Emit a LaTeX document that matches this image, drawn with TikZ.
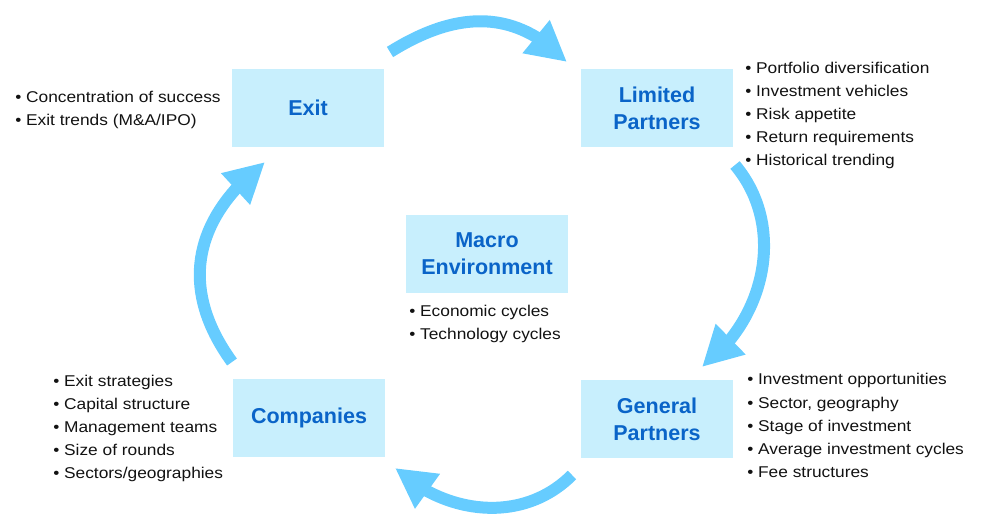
\documentclass[tikz,border=0pt]{standalone}
\usepackage{fontspec}
\setmainfont{Liberation Sans}
\newfontfamily\bulletfont{Liberation Sans}[FakeStretch=1.11]
\usetikzlibrary{arrows.meta,bending}
\definecolor{boxblue}{RGB}{200, 239, 253}
\definecolor{titleblue}{RGB}{10, 100, 200}
\definecolor{loopblue}{RGB}{102, 204, 255}

\begin{document}
\begin{tikzpicture}[x=0.025cm, y=0.025cm,
    stage/.style={fill=boxblue, minimum width=3.8cm, minimum height=1.95cm, align=center,
        text=titleblue, font=\bfseries\fontsize{15.3}{19.2}\selectfont},
    notes/.style={anchor=west, inner sep=0pt, align=left, text=black!93,
        font=\bulletfont\fontsize{11.1}{16.4}\selectfont},
    cycle/.style={loopblue, line width=0.3cm, -{Triangle[length=1cm, width=1cm]}}]
    \useasboundingbox (0,0) rectangle (981,-531);
    % stages of the cycle
    \node[stage] (exit) at (308,-108) {Exit};
    \node[stage] (lp) at (657,-108) {Limited\\Partners};
    \node[stage] (gp) at (657,-419) {General\\Partners};
    \node[stage] (comp) at (309,-418) {Companies};
    \node[stage, minimum width=4.05cm] (macro) at (487,-254) {Macro\\Environment};
    % bullet lists
    \node[notes] (exitnotes) at (15,-110) {• Concentration of success\\• Exit trends (M\&A/IPO)};
    \node[notes] (lpnotes) at (745,-115.5) {• Portfolio diversification\\• Investment vehicles\\• Risk appetite\\• Return requirements\\• Historical trending};
    \node[notes] (gpnotes) at (747,-425.5) {• Investment opportunities\\• Sector, geography\\• Stage of investment\\• Average investment cycles\\• Fee structures};
    \node[notes] (compnotes) at (53,-428.5) {• Exit strategies\\• Capital structure\\• Management teams\\• Size of rounds\\• Sectors/geographies};
    \node[notes] (macronotes) at (409,-324) {• Economic cycles\\• Technology cycles};
    % arrow ends
    \coordinate (t1) at (390,-52);
    \coordinate (h1) at (567,-62);
    \coordinate (t2) at (735,-165);
    \coordinate (h2) at (702,-367);
    \coordinate (t3) at (572,-475);
    \coordinate (h3) at (395,-468);
    \coordinate (t4) at (232,-362);
    \coordinate (h4) at (265,-162);
    \draw[cycle] (t1) to[out=32, in=134, looseness=1.1] (h1);
    \draw[cycle] (t2) to[out=-50, in=37] (h2);
    \draw[cycle] (t3) to[out=-135, in=-43] (h3);
    \draw[cycle] (t4) to[out=126, in=-142, looseness=1.15] (h4);
\end{tikzpicture}
\end{document}
